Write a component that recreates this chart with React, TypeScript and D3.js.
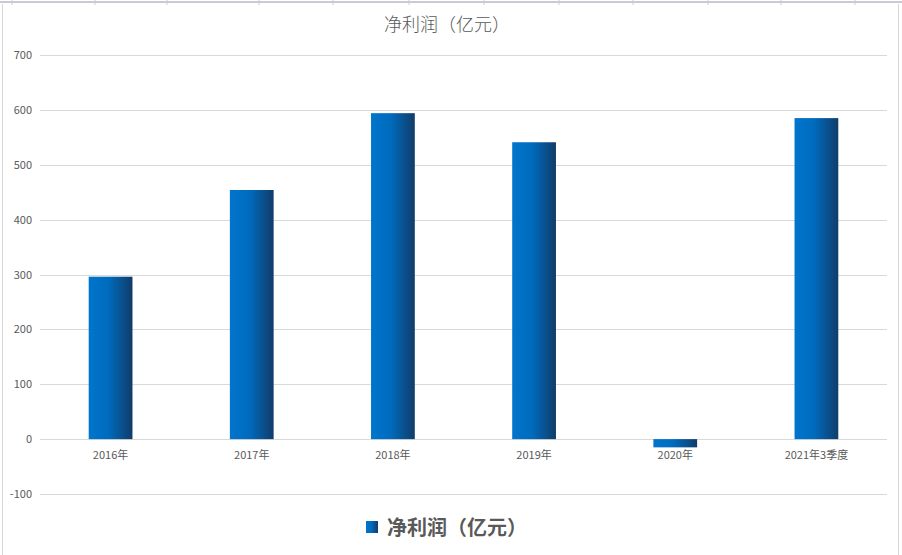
import React, { useEffect } from 'react';
import * as d3 from 'd3';

// ── Data ─────────────────────────────────────────────────────────────────────
const categories = ['2016年', '2017年', '2018年', '2019年', '2020年', '2021年3季度'];
const netProfit = [296, 454, 594, 541, -15, 585];
const yTicks = [-100, 0, 100, 200, 300, 400, 500, 600, 700];
const seriesName = '净利润（亿元）';

// ── Layout ───────────────────────────────────────────────────────────────────
const W = 902;
const H = 555;
const PLOT = { left: 40, right: 887, top: 55, bottom: 494 };
const FONT = '"Noto Sans CJK SC", "Microsoft YaHei", sans-serif';
const TEXT = '#595959';

export default function App() {
  useEffect(() => {
    document.body.style.margin = '0';
  }, []);

  const x = d3.scaleBand().domain(categories).range([PLOT.left, PLOT.right]).paddingInner(0.69).paddingOuter(0.345);
  const y = d3.scaleLinear().domain([-100, 700]).range([PLOT.bottom, PLOT.top]);
  const bw = x.bandwidth();
  const band = d3.scaleBand().domain(categories).range([PLOT.left, PLOT.right]);

  // faint spreadsheet column marks along the top edge
  const colMarks = [12, 95, 167, 259, 333, 409, 484, 559, 633, 708, 781, 855];

  return (
    <svg width={W} height={H} style={{ position: 'absolute', left: 0, top: 0, background: '#fff' }}>
      <defs>
        <linearGradient id="barGrad" x1="0" x2="1" y1="0" y2="0">
          <stop offset="0%" stopColor="#0075CD" />
          <stop offset="45%" stopColor="#006BBD" />
          <stop offset="100%" stopColor="#113C69" />
        </linearGradient>
      </defs>

      {/* sheet frame */}
      <line x1={0} x2={W} y1={2} y2={2} stroke="#c9c9d8" strokeWidth={2} />
      {colMarks.map((cx) => (
        <line key={cx} x1={cx} x2={cx} y1={0} y2={5} stroke="#c9c9d8" />
      ))}
      <line x1={2.5} x2={2.5} y1={4} y2={H} stroke="#d6d6d6" />
      <line x1={898.5} x2={898.5} y1={4} y2={H} stroke="#d6d6d6" />

      {/* title */}
      <text x={447} y={31} textAnchor="middle" fontFamily={FONT} fontSize={18} fontWeight={300} fill={TEXT}>
        {seriesName}
      </text>

      {/* gridlines + y labels */}
      {yTicks.map((t) => (
        <g key={t}>
          <line x1={PLOT.left} x2={PLOT.right} y1={Math.round(y(t)) + 0.5} y2={Math.round(y(t)) + 0.5} stroke="#d9d9d9" />
          <text x={32} y={y(t) + 4} textAnchor="end" fontFamily={FONT} fontSize={11} fill={TEXT}>
            {t}
          </text>
        </g>
      ))}

      {/* bars */}
      {categories.map((c, i) => {
        const v = netProfit[i];
        const y0 = y(Math.max(0, v));
        const h = Math.abs(y(v) - y(0));
        return <rect key={c} x={x(c)} y={y0} width={bw} height={h} fill="url(#barGrad)" />;
      })}

      {/* category labels */}
      {categories.map((c) => (
        <text
          key={c}
          x={(band(c) ?? 0) + band.bandwidth() / 2}
          y={y(0) + 20}
          textAnchor="middle"
          fontFamily={FONT}
          fontSize={11}
          fill={TEXT}
        >
          {c}
        </text>
      ))}

      {/* legend */}
      <rect x={366} y={521} width={12} height={12} fill="url(#barGrad)" />
      <text x={387} y={535} fontFamily={FONT} fontSize={20} fontWeight={700} fill={TEXT}>
        {seriesName}
      </text>
    </svg>
  );
}
